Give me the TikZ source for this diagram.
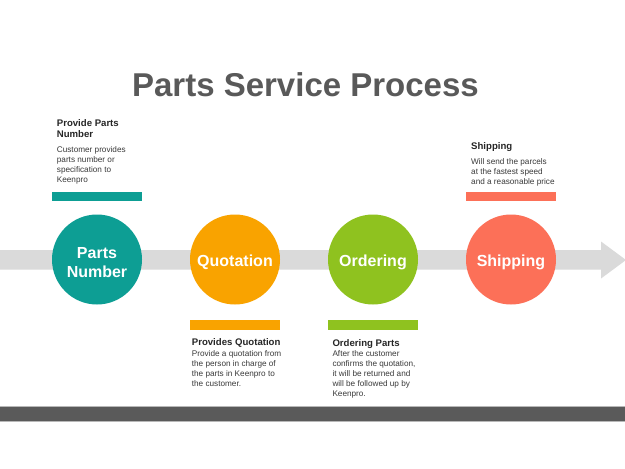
\documentclass[tikz,border=0pt]{standalone}
\usepackage{fontspec}
\setmainfont{Liberation Sans}
\usetikzlibrary{positioning}
\definecolor{partsteal}{HTML}{0D9E94}
\definecolor{quotorange}{HTML}{F9A300}
\definecolor{ordergreen}{HTML}{8FC21F}
\definecolor{shipred}{HTML}{FC7058}
\definecolor{bandgray}{HTML}{DADADA}
\definecolor{titlegray}{HTML}{595959}
\definecolor{headgray}{HTML}{262626}
\definecolor{bodygray}{HTML}{3A3A3A}
\definecolor{footgray}{HTML}{5A5A5A}
\definecolor{edgegray}{HTML}{B8B8B8}
\begin{document}
\begin{tikzpicture}[x=1pt,y=-1pt,
  stagecircle/.style={circle, minimum size=90pt, inner sep=0pt, text=white,
    align=center, text height=17.5pt, font=\bfseries\fontsize{16}{19}\selectfont},
  colourbar/.style={minimum width=90pt, minimum height=9.5pt, inner sep=0pt},
  headtext/.style={anchor=north west, inner sep=0pt, align=left, text=headgray,
    font=\bfseries\fontsize{9.6}{11}\selectfont},
  bodytext/.style={anchor=north west, inner sep=0pt, align=left, text=bodygray,
    font=\fontsize{8.2}{10}\selectfont}]
  \useasboundingbox[fill=white] (0,0) rectangle (625,469);
  % Title
  \node[anchor=base, text=titlegray, font=\bfseries\fontsize{33}{40}\selectfont]
    (title) at (305.5,96) {Parts Service Process};
  % Band: grey arrow
  \fill[bandgray] (0,250) -- (601,250) -- (601,241.5) -- (626,260)
    -- (601,278.5) -- (601,269.5) -- (0,269.5) -- cycle;
  % Stages
  \node[stagecircle, fill=partsteal, text height=36.5pt] (parts) at (97,259.5) {Parts\\Number};
  \node[stagecircle, fill=quotorange] (quot) at (235,259.5) {Quotation};
  \node[stagecircle, fill=ordergreen] (order) at (373,259.5) {Ordering};
  \node[stagecircle, fill=shipred] (ship) at (511,259.5) {Shipping};
  % Bars
  \node[colourbar, fill=partsteal, above=13pt of parts] (partsbar) {};
  \node[colourbar, fill=shipred, above=13pt of ship] (shipbar) {};
  \node[colourbar, fill=quotorange, below=15.5pt of quot] (quotbar) {};
  \node[colourbar, fill=ordergreen, below=15.5pt of order] (orderbar) {};
  % Texts
  \node[headtext] (partshead) at (56.7,119.8) {Provide Parts\\Number};
  \node[bodytext] (partsbody) at (56.7,146.8)
    {Customer provides\\parts number or\\specification to\\Keenpro};
  \node[headtext] (shiphead) at (471,142) {Shipping};
  \node[bodytext] (shipbody) at (471,158.1)
    {Will send the parcels\\at the fastest speed\\and a reasonable price};
  \node[headtext] (quothead) at (191.7,338.7) {Provides Quotation};
  \node[bodytext] (quotbody) at (191.7,350.7)
    {Provide a quotation from\\the person in charge of\\the parts in Keenpro to\\the customer.};
  \node[headtext] (orderhead) at (332.3,339) {Ordering Parts};
  \node[bodytext] (orderbody) at (332.3,350.7)
    {After the customer\\confirms the quotation,\\it will be returned and\\will be followed up by\\Keenpro.};
  % Footer
  \fill[footgray] (0,407) rectangle (625,421);
  \draw[edgegray, line width=0.7pt] (0,406.6) -- (625,406.6) (0,421.4) -- (625,421.4);
\end{tikzpicture}
\end{document}
